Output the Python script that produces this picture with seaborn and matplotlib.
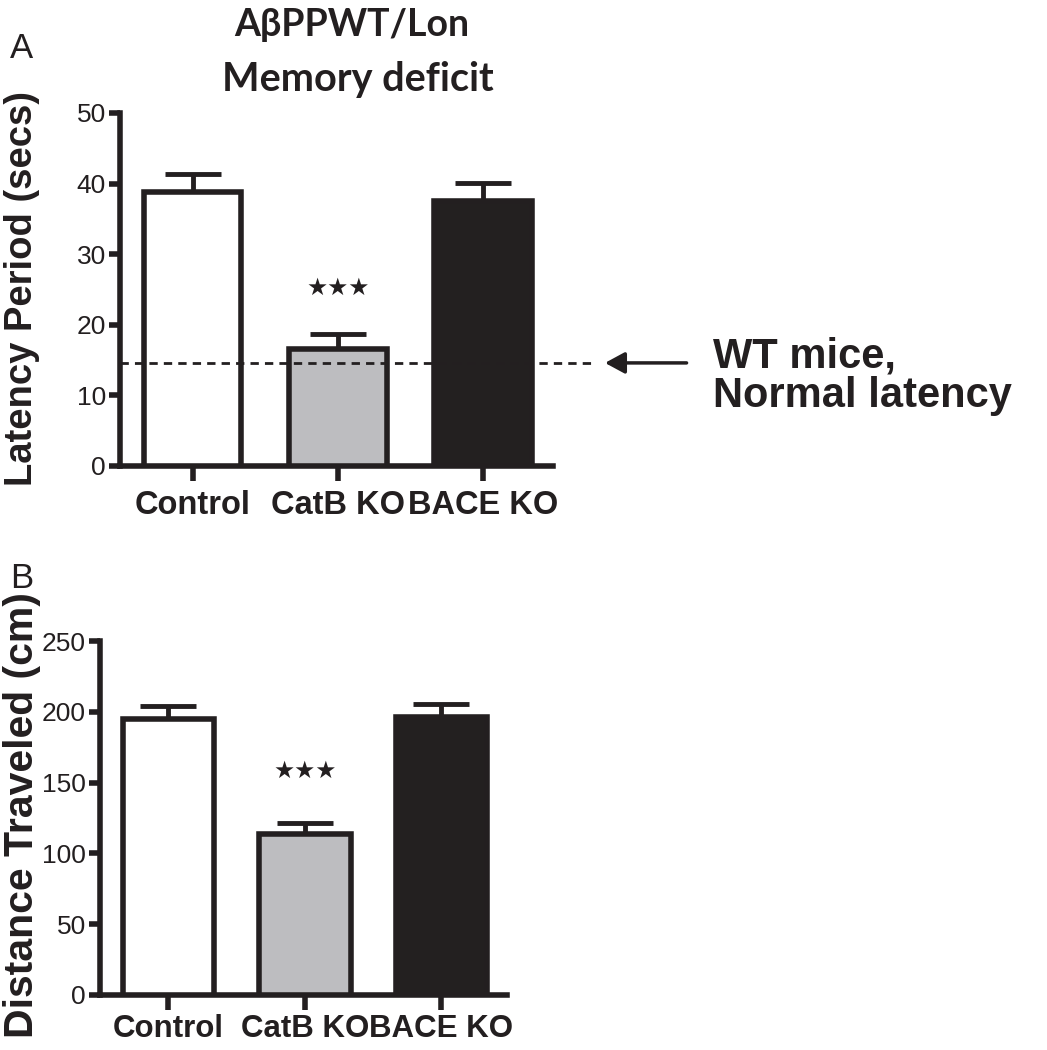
import matplotlib
matplotlib.use("Agg")
import matplotlib.pyplot as plt
import seaborn as sns

# data
groups = ["Control", "CatB KO", "BACE KO"]
latency_mean = [38.8, 16.6, 37.5]
latency_err = [2.6, 2.1, 2.6]
wt_latency = 14.6
distance_mean = [195, 114, 196]
distance_err = [9, 7.5, 9.5]
bar_colors = ["#ffffff", "#bcbdc0", "#231f20"]

sns.set_style("ticks")
plt.rcParams["font.family"] = ["Liberation Sans", "DejaVu Sans"]

fig = plt.figure(figsize=(10.47, 10.5), dpi=100)
axA = fig.add_axes([0.1146, 0.5562, 0.4134, 0.3362])
axB = fig.add_axes([0.0955, 0.0524, 0.3887, 0.3371])

tick_font = ["Liberation Sans Narrow", "Liberation Sans", "DejaVu Sans"]


def panel(ax, means, errs, ymax, ystep, label_size, label_pad):
    sns.barplot(x=groups, y=means, hue=groups, palette=bar_colors, legend=False,
                width=0.67, edgecolor="#231f20", linewidth=4, ax=ax, zorder=3)
    ax.errorbar(range(3), means, yerr=[[0, 0, 0], errs], fmt="none",
                ecolor="#231f20", elinewidth=3.5, capsize=20, capthick=3.5, zorder=2)
    ax.set_ylim(0, ymax)
    ax.set_xlim(-0.5, 2.48)
    ax.set_yticks(range(0, ymax + 1, ystep))
    sns.despine(ax=ax)
    for s in ["left", "bottom"]:
        ax.spines[s].set_linewidth(4)
        ax.spines[s].set_color("#231f20")
    ax.tick_params(axis="y", length=8, width=4, color="#231f20", pad=2)
    ax.tick_params(axis="x", length=11, width=4, color="#231f20", pad=label_pad)
    for lab in ax.get_yticklabels():
        lab.set_family(tick_font)
        lab.set_fontsize(19)
        lab.set_color("#231f20")
    ax.set_xticks(range(3))
    ax.set_xticklabels(groups, fontsize=label_size, fontweight="bold", color="#231f20")
    ax.set_xlabel("")
    ax.set_ylabel("")


panel(axA, latency_mean, latency_err, 50, 10, 23.5, 6)
panel(axB, distance_mean, distance_err, 250, 50, 22.5, 3)

# WT reference line and arrow
axA.plot([-0.5, 2.78], [wt_latency, wt_latency], ls=(0, (3, 2.2)), color="#231f20",
         lw=2, zorder=4, clip_on=False)
axA.annotate("", xy=(2.82, wt_latency), xytext=(3.42, wt_latency),
             arrowprops=dict(arrowstyle="-|>,head_length=1.2,head_width=0.65",
                             color="#231f20", lw=2.5), annotation_clip=False)
axA.text(3.58, wt_latency - 1.9, "WT mice,\nNormal latency", ha="left", va="center",
         fontsize=30, fontweight="bold", color="#231f20", linespacing=1.0)

# significance stars
star_font = ["DejaVu Sans"]
axA.text(1, 25.2, "★★★", ha="center", va="center", fontsize=17, family=star_font,
         color="#231f20")
axB.text(1, 158, "★★★", ha="center", va="center", fontsize=17, family=star_font,
         color="#231f20")

# titles and labels
title_font = ["Lato", "DejaVu Sans"]
fig.text(352 / 1047, 1 - 25 / 1050, "AβPPWT/Lon", ha="center", va="center",
         fontsize=27, fontweight="bold", family=title_font, color="#231f20")
fig.text(358 / 1047, 1 - 79 / 1050, "Memory deficit", ha="center", va="center",
         fontsize=28.5, fontweight="bold", family=title_font, color="#231f20")
fig.text(22 / 1047, 1 - 48 / 1050, "A", ha="center", va="center", fontsize=25, color="#231f20")
fig.text(22 / 1047, 1 - 578 / 1050, "B", ha="center", va="center", fontsize=25, color="#231f20")
fig.text(22 / 1047, 1 - 289 / 1050, "Latency Period (secs)", rotation=90, ha="center",
         va="center", fontsize=27.5, fontweight="bold", color="#231f20")
fig.text(22 / 1047, 1 - 815 / 1050, "Distance Traveled (cm)", rotation=90, ha="center",
         va="center", fontsize=29.5, fontweight="bold", color="#231f20")

fig.savefig("out.png", dpi=100, facecolor="white")
